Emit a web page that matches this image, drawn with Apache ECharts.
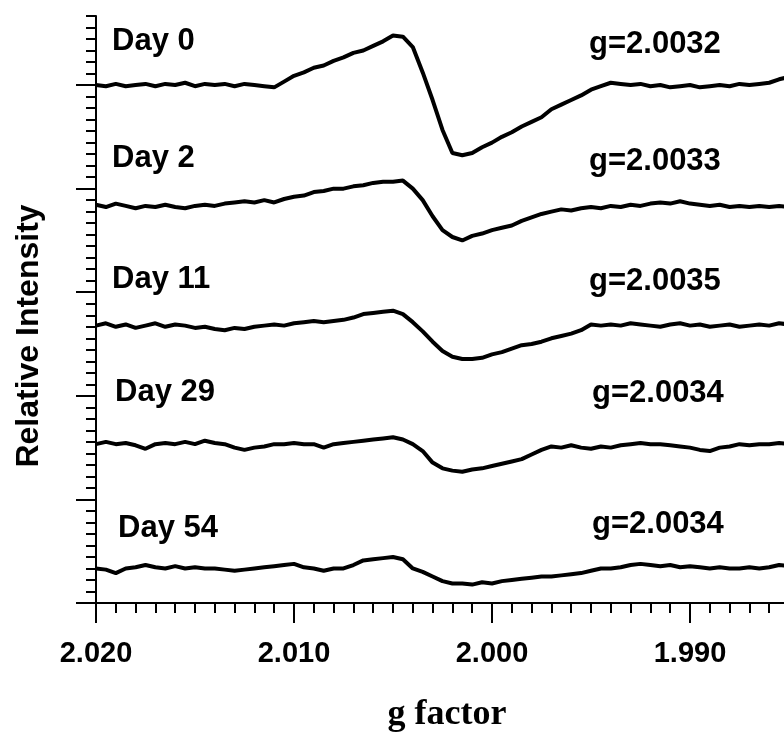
<!DOCTYPE html>
<html>
<head>
<meta charset="utf-8">
<script src="https://cdn.jsdelivr.net/npm/echarts@6/dist/echarts.min.js"></script>
<style>
html, body { margin: 0; padding: 0; background: #fff; }
#main { width: 784px; height: 732px; }
</style>
</head>
<body>
<div id="main"></div>
<script>
// g values of the sampled points (left to right)
var gValues = [
    2.0200, 2.0195, 2.0190, 2.0185, 2.0180, 2.0175, 2.0170, 2.0165, 2.0160, 2.0155,
    2.0150, 2.0145, 2.0140, 2.0135, 2.0130, 2.0125, 2.0120, 2.0115, 2.0110, 2.0105,
    2.0100, 2.0095, 2.0090, 2.0085, 2.0080, 2.0075, 2.0070, 2.0065, 2.0060, 2.0055,
    2.0050, 2.0045, 2.0040, 2.0035, 2.0030, 2.0025, 2.0020, 2.0015, 2.0010, 2.0005,
    2.0000, 1.9995, 1.9990, 1.9985, 1.9980, 1.9975, 1.9970, 1.9965, 1.9960, 1.9955,
    1.9950, 1.9945, 1.9940, 1.9935, 1.9930, 1.9925, 1.9920, 1.9915, 1.9910, 1.9905,
    1.9900, 1.9895, 1.9890, 1.9885, 1.9880, 1.9875, 1.9870, 1.9865, 1.9860, 1.9855,
    1.9850
];

// spectra, relative intensity (stacked with offsets)
var day0 = [
    45.0, 44.9, 45.1, 44.9, 45.0, 45.1, 44.9, 45.1, 45.0, 45.2,
    44.9, 45.1, 45.0, 45.1, 44.9, 45.1, 45.0, 44.9, 44.8, 45.3,
    45.8, 46.1, 46.5, 46.7, 47.1, 47.4, 47.8, 48.0, 48.4, 48.8,
    49.3, 49.2, 48.3, 46.1, 43.7, 41.1, 39.1, 38.9, 39.1, 39.6,
    40.0, 40.5, 40.9, 41.4, 41.8, 42.2, 42.9, 43.3, 43.7, 44.1,
    44.6, 44.9, 45.2, 45.1, 45.0, 45.1, 44.9, 45.0, 44.8, 44.9,
    45.0, 44.8, 44.9, 45.0, 44.9, 45.1, 45.0, 45.1, 45.2, 45.5,
    45.7
];
var day2 = [
    34.6, 34.4, 34.7, 34.5, 34.3, 34.5, 34.4, 34.6, 34.4, 34.3,
    34.5, 34.6, 34.5, 34.7, 34.8, 34.9, 34.8, 35.0, 34.8, 35.1,
    35.3, 35.4, 35.7, 35.8, 36.0, 36.0, 36.2, 36.3, 36.5, 36.6,
    36.6, 36.7, 36.0, 35.0, 33.6, 32.4, 31.8, 31.5, 31.9, 32.1,
    32.4, 32.6, 32.8, 33.2, 33.5, 33.8, 34.0, 34.2, 34.1, 34.3,
    34.4, 34.3, 34.5, 34.4, 34.6, 34.5, 34.7, 34.8, 34.7, 34.9,
    34.7, 34.6, 34.5, 34.6, 34.4, 34.5, 34.4, 34.5, 34.4, 34.5,
    34.4
];
var day11 = [
    24.1, 24.3, 24.0, 24.2, 23.9, 24.1, 24.3, 24.0, 24.2, 24.1,
    23.9, 24.0, 23.8, 23.7, 23.9, 23.8, 24.0, 24.1, 24.2, 24.1,
    24.3, 24.4, 24.5, 24.4, 24.5, 24.6, 24.8, 25.1, 25.2, 25.3,
    25.4, 25.1, 24.4, 23.6, 22.7, 21.9, 21.4, 21.2, 21.2, 21.3,
    21.6, 21.8, 22.1, 22.4, 22.5, 22.7, 23.0, 23.2, 23.4, 23.7,
    24.2, 24.1, 24.2, 24.1, 24.3, 24.2, 24.1, 24.0, 24.2, 24.3,
    24.1, 24.2, 24.0, 24.1, 24.2, 24.0, 24.1, 24.2, 24.1, 24.3,
    24.2
];
var day29 = [
    13.8, 14.0, 13.8, 13.9, 13.7, 13.4, 13.8, 13.9, 13.8, 14.0,
    13.8, 14.1, 13.9, 13.8, 13.5, 13.3, 13.5, 13.6, 13.8, 13.8,
    13.9, 13.8, 13.8, 13.5, 13.8, 13.9, 14.0, 14.1, 14.2, 14.3,
    14.4, 14.2, 13.8, 13.2, 12.2, 11.7, 11.5, 11.4, 11.6, 11.7,
    11.9, 12.1, 12.3, 12.5, 12.9, 13.3, 13.6, 13.5, 13.7, 13.5,
    13.4, 13.6, 13.5, 13.7, 13.8, 13.9, 13.8, 13.8, 13.7, 13.6,
    13.5, 13.3, 13.2, 13.5, 13.6, 13.8, 13.7, 13.8, 13.8, 13.9,
    13.8
];
var day54 = [
    3.0, 2.9, 2.6, 3.0, 3.1, 3.3, 3.1, 3.0, 3.2, 3.0,
    3.1, 3.0, 3.0, 2.9, 2.8, 2.9, 3.0, 3.1, 3.2, 3.3,
    3.4, 3.1, 3.0, 2.8, 3.0, 3.0, 3.3, 3.7, 3.8, 3.9,
    4.0, 3.8, 3.0, 2.7, 2.3, 1.9, 1.7, 1.7, 1.6, 1.8,
    1.7, 1.9, 2.0, 2.1, 2.2, 2.3, 2.3, 2.4, 2.5, 2.6,
    2.8, 3.0, 3.0, 3.1, 3.3, 3.4, 3.3, 3.2, 3.3, 3.1,
    3.2, 3.1, 3.0, 3.1, 3.0, 3.0, 3.1, 3.0, 3.1, 3.3,
    3.2
];

var dayNames = ['Day 0', 'Day 2', 'Day 11', 'Day 29', 'Day 54'];
var gLabels = ['g=2.0032', 'g=2.0033', 'g=2.0035', 'g=2.0034', 'g=2.0034'];
var majorY = [0, 9, 18, 27, 36, 45];

var spectra = [day0, day2, day11, day29, day54];
var sansBold = 'bold 31px "Liberation Sans", Arial, sans-serif';

function pairs(vals) {
    return gValues.map(function (g, i) { return [g, vals[i]]; });
}

// text positions (px) for the day / g labels
var dayPos = [[112, 41], [112, 158], [112, 279], [115, 392], [118, 528]];
var gPos = [[589, 44], [589, 161], [589, 281], [592, 393], [592, 524]];

var graphics = [];
dayNames.forEach(function (t, i) {
    graphics.push({ type: 'text', x: dayPos[i][0], y: dayPos[i][1],
        style: { text: t, font: sansBold, fill: '#000', verticalAlign: 'middle' } });
});
gLabels.forEach(function (t, i) {
    graphics.push({ type: 'text', x: gPos[i][0], y: gPos[i][1],
        style: { text: t, font: sansBold, fill: '#000', verticalAlign: 'middle' } });
});
graphics.push({ type: 'text', x: 29, y: 336, rotation: Math.PI / 2,
    style: { text: 'Relative Intensity', font: 'bold 32px "Liberation Sans", Arial, sans-serif', fill: '#000', align: 'center', verticalAlign: 'middle' } });
graphics.push({ type: 'text', x: 447, y: 715,
    style: { text: 'g factor', font: 'bold 36px "Liberation Serif", "Times New Roman", serif', fill: '#000', align: 'center', verticalAlign: 'middle' } });

var axisBlack = { color: '#000', width: 2 };

option = {
    animation: false,
    backgroundColor: '#fff',
    grid: {
        left: 96,
        right: -104,
        top: 16,
        bottom: 129,
        containLabel: false,
        outerBoundsMode: 'none'
    },
    xAxis: {
        type: 'value',
        inverse: true,
        min: 1.98,
        max: 2.02,
        interval: 0.01,
        axisLine: { show: true, onZero: false, lineStyle: axisBlack },
        axisTick: { show: true, length: 20, lineStyle: axisBlack },
        minorTick: { show: true, splitNumber: 10, length: 10, lineStyle: axisBlack },
        axisLabel: {
            show: true,
            margin: 36,
            color: '#000',
            fontSize: 29,
            fontWeight: 'bold',
            fontFamily: '"Liberation Sans", Arial, sans-serif',
            formatter: function (v) { return v.toFixed(3); }
        },
        splitLine: { show: false }
    },
    yAxis: [{
        type: 'value',
        min: 0,
        max: 51,
        interval: 1,
        axisLine: { show: true, onZero: false, lineStyle: axisBlack },
        axisTick: { show: true, length: 10, lineStyle: axisBlack },
        axisLabel: { show: false },
        splitLine: { show: false }
    }, {
        type: 'value',
        position: 'left',
        min: 0,
        max: 51,
        axisLine: { show: false },
        axisTick: { show: true, length: 20, customValues: majorY, lineStyle: axisBlack },
        axisLabel: { show: false },
        splitLine: { show: false }
    }],
    graphic: graphics,
    series: spectra.map(function (d, i) {
        return {
            name: dayNames[i],
            type: 'line',
            yAxisIndex: 0,
            data: pairs(d),
            showSymbol: false,
            lineStyle: { color: '#000', width: 4 }
        };
    })
};

var dom = document.getElementById('main');
var myChart = echarts.init(dom);
myChart.setOption(option);
</script>
</body>
</html>
